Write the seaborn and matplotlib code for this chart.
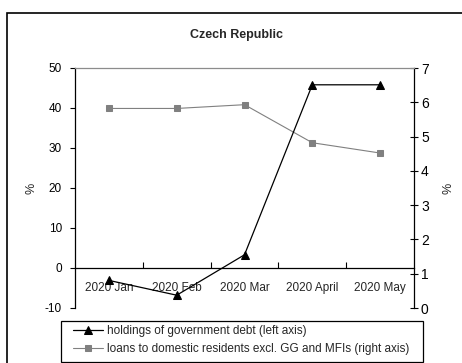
import matplotlib
matplotlib.use("Agg")
import matplotlib.pyplot as plt
from matplotlib.patches import Rectangle
from matplotlib.ticker import NullFormatter
import seaborn as sns
import pandas as pd

months = ["2020 Jan", "2020 Feb", "2020 Mar", "2020 April", "2020 May"]
gov_debt = [-3.1, -6.8, 3.3, 45.8, 45.8]
loans = [5.82, 5.82, 5.93, 4.82, 4.52]
left_ticks = [-10, 0, 10, 20, 30, 40, 50]
right_ticks = [0, 1, 2, 3, 4, 5, 6, 7]
title = "Czech Republic"
label_debt = "holdings of government debt (left axis)"
label_loans = "loans to domestic residents excl. GG and MFIs (right axis)"

sns.set_style("white")
plt.rcParams["font.family"] = ["Liberation Sans", "DejaVu Sans"]
plt.rcParams["axes.unicode_minus"] = False

df = pd.DataFrame({"month": months, "debt": gov_debt, "loans": loans})

W, H = 462, 363
fig = plt.figure(figsize=(W / 100, H / 100), dpi=100)

# outer frame
fig.patches.append(Rectangle((7 / W, -0.1), 1.2, (H - 13) / H + 0.1,
                             transform=fig.transFigure, fill=False,
                             edgecolor="black", linewidth=1.2))
# legend frame
fig.patches.append(Rectangle((61 / W, 1 - 362 / H), (423 - 61) / W, (362 - 321) / H,
                             transform=fig.transFigure, fill=False,
                             edgecolor="black", linewidth=0.9))

ax = fig.add_axes([75 / W, 1 - 308 / H, (414 - 75) / W, (308 - 68) / H])
ax2 = ax.twinx()
ax.set_zorder(2)
ax.patch.set_visible(False)
ax2.set_zorder(1)

sns.lineplot(data=df, x="month", y="loans", ax=ax2, color="#808080",
             marker="s", markersize=5, markeredgecolor="#808080",
             linewidth=0.8, sort=False, legend=False)
sns.lineplot(data=df, x="month", y="debt", ax=ax, color="black",
             marker="^", markersize=6, markeredgecolor="black",
             linewidth=0.9, sort=False, legend=False)

ax.set_xlim(-0.5, 4.5)
ax.set_ylim(-10, 50)
ax2.set_ylim(0, 7)
ax.set_yticks(left_ticks)
ax2.set_yticks(right_ticks)

ax.spines["right"].set_visible(False)
ax.spines["left"].set_color("black")
ax.spines["left"].set_linewidth(0.9)
ax.spines["bottom"].set_position(("data", 0))
ax.spines["bottom"].set_color("black")
ax.spines["bottom"].set_linewidth(0.9)
ax.spines["top"].set_color("#8c8c8c")
ax.spines["top"].set_linewidth(0.9)
for s in ["left", "top", "bottom"]:
    ax2.spines[s].set_visible(False)
ax2.spines["right"].set_color("black")
ax2.spines["right"].set_linewidth(0.9)

ax.tick_params(axis="y", direction="out", length=3.5, width=0.8, labelsize=8.5,
               pad=6, colors="black", left=True)
ax2.tick_params(axis="y", direction="inout", length=6, width=0.8, labelsize=10,
                pad=2, colors="black", right=True)

ax.set_xticks([0.5, 1.5, 2.5, 3.5])
ax.xaxis.set_major_formatter(NullFormatter())
ax.set_xticks(range(len(months)), labels=months, minor=True)
ax.tick_params(axis="x", which="major", direction="in", length=4, width=0.8,
               bottom=True, colors="black")
ax.tick_params(axis="x", which="minor", length=0, labelsize=8.5, pad=10,
               bottom=True)

ax.set_xlabel("")
ax.set_ylabel("%", fontsize=9, labelpad=5)
ax2.set_ylabel("%", fontsize=9, labelpad=10)

fig.text(237 / W, 1 - 35 / H, title, ha="center", va="center",
         fontsize=9, fontweight="bold")

h1 = ax.lines[0]
h2 = ax2.lines[0]
leg = fig.legend([h1, h2], [label_debt, label_loans],
                 loc="upper left", bbox_to_anchor=(73 / W, 1 - 325 / H),
                 frameon=False, fontsize=8.5, handlelength=2.5,
                 handletextpad=0.4, labelspacing=0.55, borderpad=0,
                 borderaxespad=0)

fig.savefig("out.png", dpi=100)
